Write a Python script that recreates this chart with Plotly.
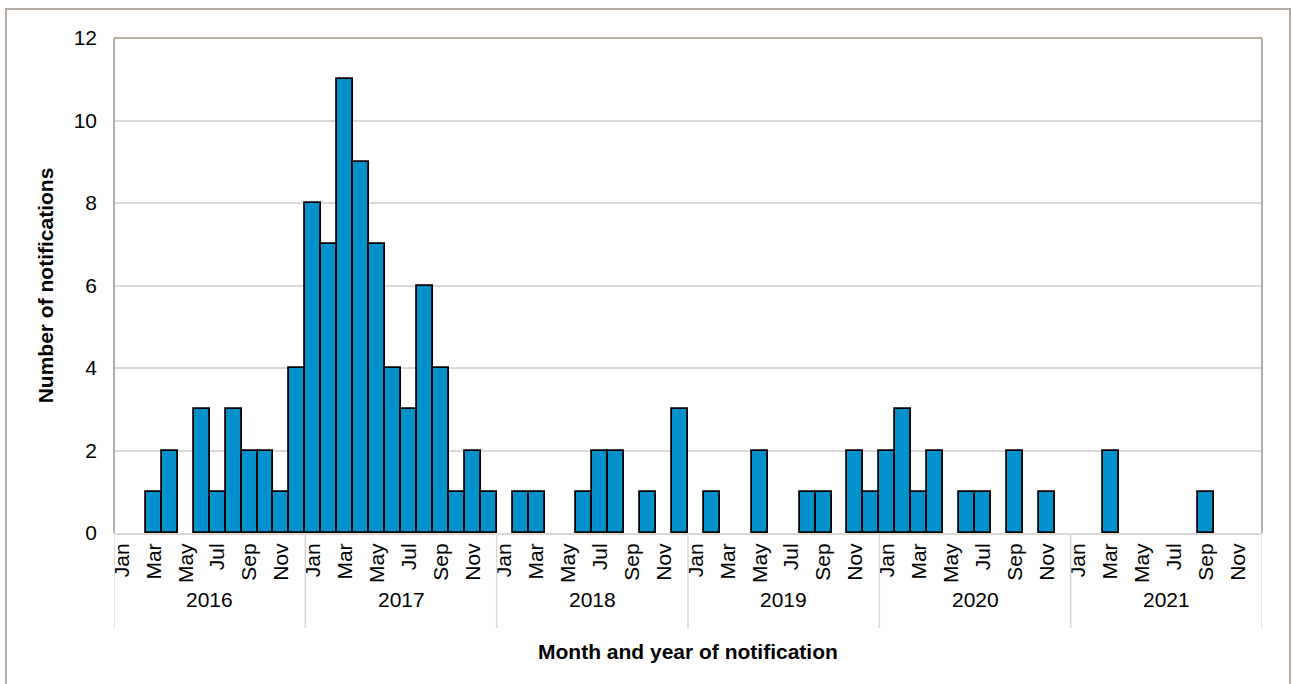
import plotly.graph_objects as go

# Monthly notification counts, Jan 2016 - Dec 2021
years = ["2016", "2017", "2018", "2019", "2020", "2021"]
months = ["Jan", "Feb", "Mar", "Apr", "May", "Jun",
          "Jul", "Aug", "Sep", "Oct", "Nov", "Dec"]
counts_2016 = [0, 0, 1, 2, 0, 3, 1, 3, 2, 2, 1, 4]
counts_2017 = [8, 7, 11, 9, 7, 4, 3, 6, 4, 1, 2, 1]
counts_2018 = [0, 1, 1, 0, 0, 1, 2, 2, 0, 1, 0, 3]
counts_2019 = [0, 1, 0, 0, 2, 0, 0, 1, 1, 0, 2, 1]
counts_2020 = [2, 3, 1, 2, 0, 1, 1, 0, 2, 0, 1, 0]
counts_2021 = [0, 0, 2, 0, 0, 0, 0, 0, 1, 0, 0, 0]
y_ticks = [0, 2, 4, 6, 8, 10, 12]

counts = counts_2016 + counts_2017 + counts_2018 + counts_2019 + counts_2020 + counts_2021
n = len(counts)
x_idx = list(range(n))
month_labels = [months[i % 12] for i in x_idx]
hover = [f"{months[i % 12]} {years[i // 12]}" for i in x_idx]

W, H = 1292, 684
ML, MR, MT, MB = 114, 30, 38, 151
plot_w = W - ML - MR
plot_h = H - MT - MB

BAR = "#0091CD"
BORDER = "#b5aca3"
GRID = "#d9d9d9"
FONT = "Liberation Sans, Arial, sans-serif"
FS = 21

# empty months get no outline so the baseline stays light grey
outline_w = [1.8 if c > 0 else 0 for c in counts]

fig = go.Figure(go.Bar(
    x=x_idx, y=counts,
    marker=dict(color=BAR, line=dict(color="black", width=outline_w)),
    hovertext=hover, hoverinfo="text+y",
))

shapes = []
annotations = []

def px_to_paper_y(py):
    return (H - MB - py) / plot_h

def px_to_paper_x(px):
    return (px - ML) / plot_w

# year separators and year labels under the month labels
for k, yr in enumerate(years):
    start = k * 12 - 0.5
    shapes.append(dict(type="line", xref="x", yref="paper",
                       x0=start, x1=start, y0=0, y1=px_to_paper_y(628),
                       line=dict(color=GRID, width=1.5), layer="above"))
    annotations.append(dict(x=start + 6, y=px_to_paper_y(599), xref="x", yref="paper",
                            text=yr, showarrow=False, xanchor="center", yanchor="middle",
                            font=dict(size=FS, color="black", family=FONT)))
end = n - 0.5
shapes.append(dict(type="line", xref="x", yref="paper",
                   x0=end, x1=end, y0=0, y1=px_to_paper_y(628),
                   line=dict(color=GRID, width=1.5), layer="above"))

# plot-area frame: left, top, right
for (x0, y0, x1, y1) in [(0, 0, 0, 1), (0, 1, 1, 1), (1, 0, 1, 1)]:
    shapes.append(dict(type="line", xref="paper", yref="paper",
                       x0=x0, y0=y0, x1=x1, y1=y1,
                       line=dict(color=BORDER, width=2), layer="above"))

# outer chart frame
shapes.append(dict(type="rect", xref="paper", yref="paper",
                   x0=px_to_paper_x(6), x1=px_to_paper_x(1290),
                   y0=px_to_paper_y(700), y1=px_to_paper_y(9),
                   line=dict(color=BORDER, width=2), fillcolor="rgba(0,0,0,0)",
                   layer="above"))

# x-axis title
annotations.append(dict(x=0.5, y=px_to_paper_y(651), xref="paper", yref="paper",
                        text="<b>Month and year of notification</b>", showarrow=False,
                        xanchor="center", yanchor="middle",
                        font=dict(size=FS, color="black", family=FONT)))

fig.update_layout(
    width=W, height=H,
    margin=dict(l=ML, r=MR, t=MT, b=MB),
    paper_bgcolor="white", plot_bgcolor="white",
    bargap=0,
    showlegend=False,
    shapes=shapes,
    annotations=annotations,
    font=dict(family=FONT, color="black"),
    xaxis=dict(
        range=[-0.5, n - 0.5],
        tickmode="array",
        tickvals=x_idx[::2],
        ticktext=month_labels[::2],
        tickangle=-90,
        tickfont=dict(size=FS, color="black", family=FONT),
        showgrid=False, zeroline=False,
        showline=True, linecolor=GRID, linewidth=2,
        ticks="",
    ),
    yaxis=dict(
        range=[0, 12],
        tickmode="array",
        tickvals=y_ticks,
        tickfont=dict(size=FS, color="black", family=FONT),
        showgrid=True, gridcolor=GRID, gridwidth=1.5,
        zeroline=False, showline=False,
        ticks="", ticklabelstandoff=16,
        title=dict(text="<b>Number of notifications</b>",
                   font=dict(size=FS, color="black", family=FONT),
                   standoff=14),
    ),
)

fig.write_html("out.html")
